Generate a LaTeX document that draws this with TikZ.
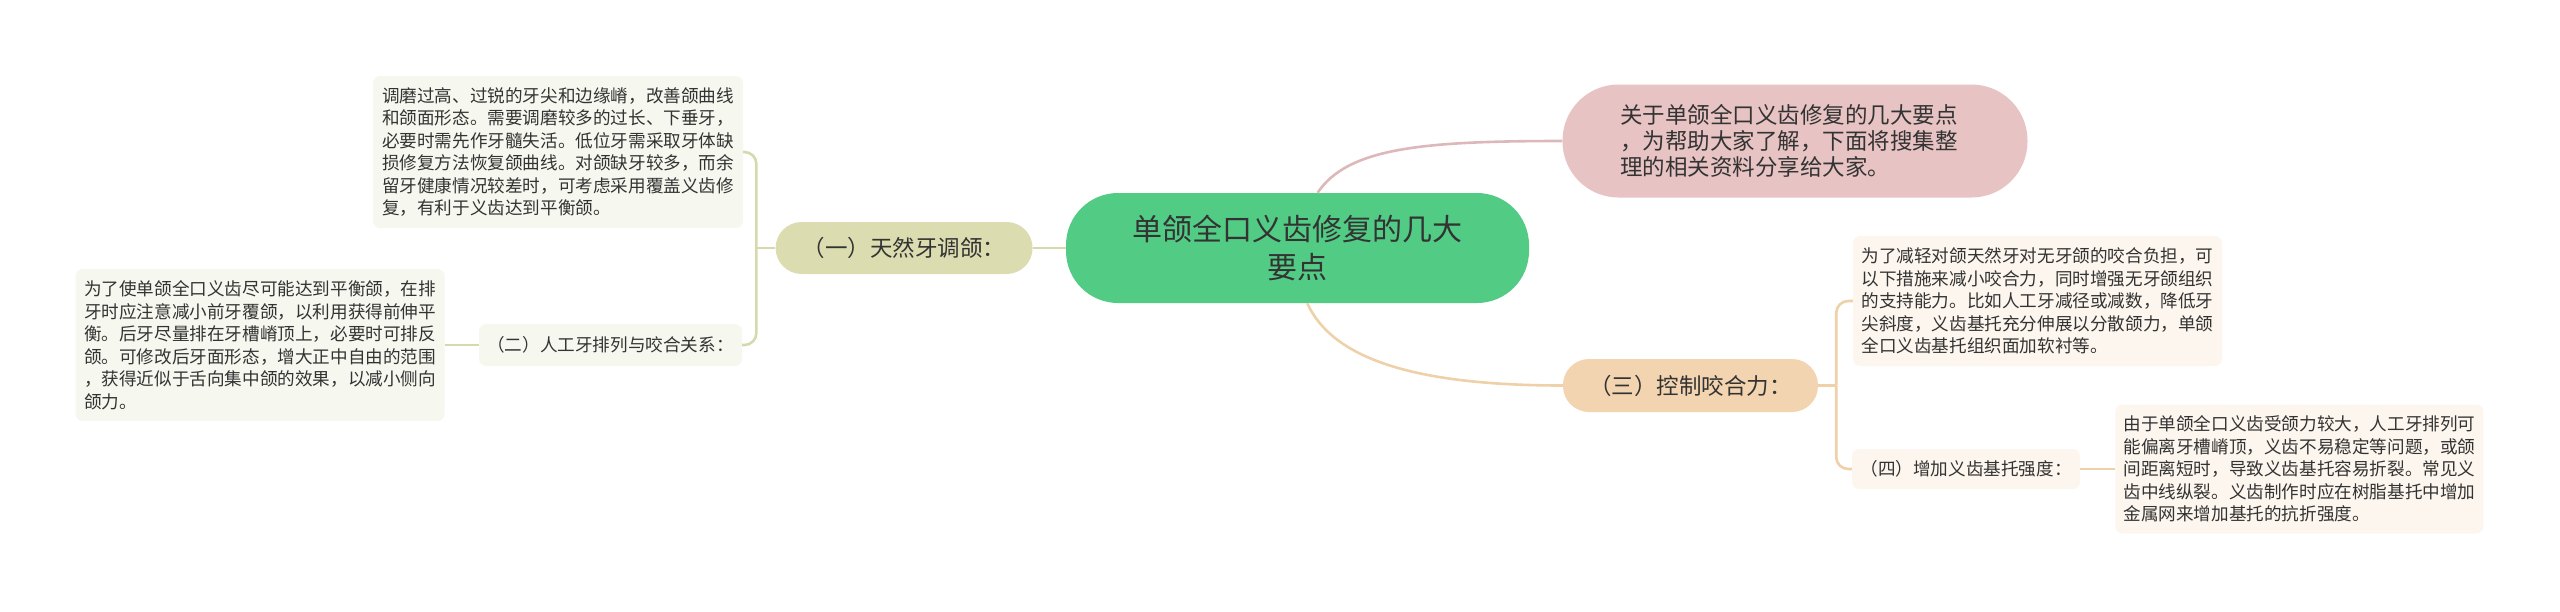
\documentclass[tikz,border=0pt]{standalone}
\usepackage{fontspec}
\usepackage{xcolor}
\usepackage{tikz}
\usetikzlibrary{positioning,calc}

\newfontfamily\cjk{Noto Sans CJK SC}

\definecolor{ink}{HTML}{333333}
\definecolor{rootfill}{HTML}{52CB84}
\definecolor{introfill}{HTML}{E8C3C3}
\definecolor{onefill}{HTML}{DBDDB0}
\definecolor{threefill}{HTML}{F3D4B0}
\definecolor{leafL}{HTML}{F6F7EF}
\definecolor{leafR}{HTML}{FDF6EE}
\definecolor{olive}{HTML}{D6D9AB}
\definecolor{rosy}{HTML}{DDB8BB}
\definecolor{sand}{HTML}{EED0A9}

\begin{document}
\begin{tikzpicture}[x=1pt, y=-1pt,
  pill/.style={rounded corners=26pt, inner sep=0pt, text=ink, align=center,
    font=\cjk\fontsize{22.5}{26}\selectfont},
  leaf/.style={rounded corners=7pt, inner sep=0pt, text=ink, align=left,
    font=\cjk\fontsize{17.6}{22.5}\selectfont},
  link/.style={line width=2.6pt}
]
\useasboundingbox (0,0) rectangle (2560,611);

% centre and main branches
\node[pill, fill=rootfill, rounded corners=52pt, minimum width=463pt, minimum height=110pt,
  font=\cjk\fontsize{30}{38}\selectfont, text=black!80] (root) at (1297.5,248) {单颌全口义齿修复的几大\\要点};
\node[pill, fill=introfill, rounded corners=56pt, minimum width=465pt, minimum height=113pt,
  text width=350pt, align=left] (intro) at (1795,141)
  {关于单颌全口义齿修复的几大要点\\，为帮助大家了解，下面将搜集整\\理的相关资料分享给大家。};
\node[pill, fill=onefill, minimum width=257pt, minimum height=52pt, left=33pt of root] (one) {（一）天然牙调颌：};
\node[pill, fill=threefill, minimum width=255pt, minimum height=53pt] (three) at (1690.5,385.5) {（三）控制咬合力：};

% left side
\node[leaf, fill=leafL, minimum width=370pt, minimum height=152pt] (leaf1) at (558,152)
  {调磨过高、过锐的牙尖和边缘嵴，改善颌曲线\\和颌面形态。需要调磨较多的过长、下垂牙，\\必要时需先作牙髓失活。低位牙需采取牙体缺\\损修复方法恢复颌曲线。对颌缺牙较多，而余\\留牙健康情况较差时，可考虑采用覆盖义齿修\\复，有利于义齿达到平衡颌。};
\node[leaf, fill=leafL, minimum width=263pt, minimum height=42pt] (two) at (610.5,345) {（二）人工牙排列与咬合关系：};
\node[leaf, fill=leafL, minimum width=369pt, minimum height=152pt, left=34pt of two] (leaf2)
  {为了使单颌全口义齿尽可能达到平衡颌，在排\\牙时应注意减小前牙覆颌，以利用获得前伸平\\衡。后牙尽量排在牙槽嵴顶上，必要时可排反\\颌。可修改后牙面形态，增大正中自由的范围\\，获得近似于舌向集中颌的效果，以减小侧向\\颌力。};

% right side
\node[leaf, fill=leafR, minimum width=369pt, minimum height=130pt] (leaf3) at (2037.5,301)
  {为了减轻对颌天然牙对无牙颌的咬合负担，可\\以下措施来减小咬合力，同时增强无牙颌组织\\的支持能力。比如人工牙减径或减数，降低牙\\尖斜度，义齿基托充分伸展以分散颌力，单颌\\全口义齿基托组织面加软衬等。};
\node[leaf, fill=leafR, minimum width=228pt, minimum height=40pt] (four) at (1966,469) {（四）增加义齿基托强度：};
\node[leaf, fill=leafR, minimum width=368pt, minimum height=129pt, right=35pt of four] (leaf4)
  {由于单颌全口义齿受颌力较大，人工牙排列可\\能偏离牙槽嵴顶，义齿不易稳定等问题，或颌\\间距离短时，导致义齿基托容易折裂。常见义\\齿中线纵裂。义齿制作时应在树脂基托中增加\\金属网来增加基托的抗折强度。};

% connectors
\draw[link, olive] (root.west) -- (one.east);
\coordinate (forkL) at ($(one.west)+(-19,0)$);
\draw[link, olive] (one.west) -- (forkL);
\draw[link, olive, rounded corners=12pt] (forkL) |- (leaf1.east);
\draw[link, olive, rounded corners=12pt] (forkL) |- (two.east);
\draw[link, olive] (two.west) -- (leaf2.east);

\draw[link, rosy] (root.70) .. controls +(30,-45) and +(-140,0) .. (intro.west);
\draw[link, sand] (root.-80) .. controls +(25,55) and +(-150,0) .. (three.west);

\coordinate (forkR) at ($(three.east)+(18,0)$);
\draw[link, sand] (three.east) -- (forkR);
\draw[link, sand, rounded corners=12pt] (forkR) |- (leaf3.west);
\draw[link, sand, rounded corners=12pt] (forkR) |- (four.west);
\draw[link, sand] (four.east) -- (leaf4.west);
\end{tikzpicture}
\end{document}
